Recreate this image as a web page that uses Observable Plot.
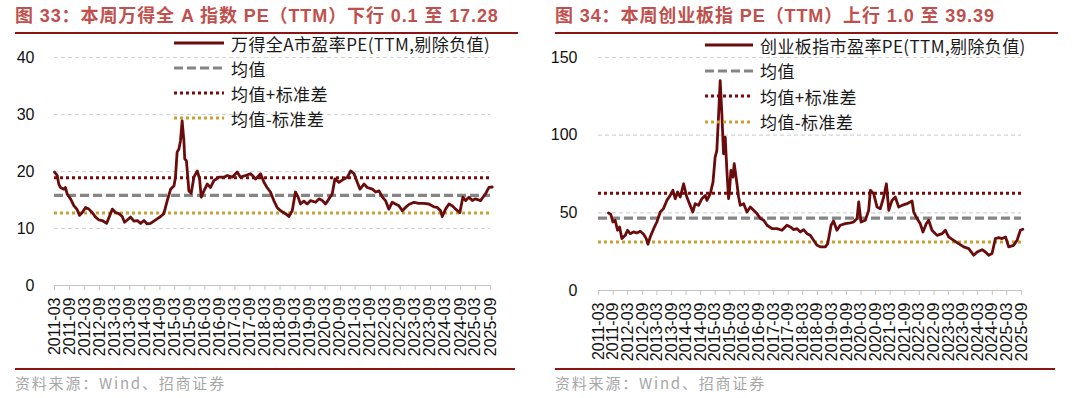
<!DOCTYPE html>
<html><head><meta charset="utf-8">
<script src="https://cdn.jsdelivr.net/npm/d3@7"></script>
<script src="https://cdn.jsdelivr.net/npm/@observablehq/plot@0.6"></script>
<style>
body{margin:0;background:#fff;}
#wrap{position:relative;width:1080px;height:398px;overflow:hidden;font-family:"Liberation Sans","Noto Sans CJK SC",sans-serif;}
.panel{position:absolute;top:0;width:540px;height:398px;}
.title{position:absolute;left:15px;top:1px;font-size:18px;letter-spacing:0.9px;font-weight:bold;color:#c0504d;white-space:nowrap;font-family:"Liberation Sans","Noto Sans CJK SC",sans-serif;}
.rule{position:absolute;height:2px;background:#8b1414;}
.src{position:absolute;left:15px;top:372px;font-size:15px;letter-spacing:1.8px;color:#a6a6a6;font-family:"Noto Sans CJK SC",sans-serif;white-space:nowrap;}
.chart{position:absolute;left:0;top:38px;}
.leg{position:absolute;font-family:"Noto Sans CJK SC",sans-serif;font-size:17px;letter-spacing:0.4px;color:#1a1a1a;white-space:nowrap;}
.row{position:absolute;left:0;height:20px;display:flex;align-items:center;}
.row svg{margin-right:7px;}
</style></head>
<body><div id="wrap"></div>
<script>
// ---------- data ----------
const titles = ["图 33：本周万得全 A 指数 PE（TTM）下行 0.1 至 17.28", "图 34：本周创业板指 PE（TTM）上行 1.0 至 39.39"];
const seriesNames = ["万得全A市盈率PE(TTM,剔除负值)", "创业板指市盈率PE(TTM,剔除负值)"];
const refNames = ["均值", "均值+标准差", "均值-标准差"];
const source = "资料来源：Wind、招商证券";
const tickLabels = ["2011-03","2011-09","2012-03","2012-09","2013-03","2013-09","2014-03","2014-09","2015-03","2015-09","2016-03","2016-09","2017-03","2017-09","2018-03","2018-09","2019-03","2019-09","2020-03","2020-09","2021-03","2021-09","2022-03","2022-09","2023-03","2023-09","2024-03","2024-09","2025-03","2025-09"];

const datesA = ["2011-03-01","2011-04-03","2011-04-22","2011-05-12","2011-06-22","2011-07-12","2011-08-03","2011-09-12","2011-10-22","2011-12-02","2011-12-30","2012-02-01","2012-03-12","2012-04-22","2012-06-01","2012-07-12","2012-08-22","2012-10-01","2012-11-23","2012-12-21","2013-02-01","2013-03-11","2013-04-21","2013-06-01","2013-06-29","2013-08-01","2013-09-11","2013-10-21","2013-12-01","2014-01-10","2014-02-20","2014-03-31","2014-05-10","2014-06-20","2014-07-30","2014-09-10","2014-10-20","2014-11-30","2015-01-10","2015-02-20","2015-03-10","2015-03-30","2015-04-20","2015-05-10","2015-05-30","2015-06-20","2015-07-01","2015-07-21","2015-08-20","2015-09-17","2015-10-20","2015-11-30","2015-12-28","2016-01-17","2016-02-19","2016-03-30","2016-05-09","2016-06-19","2016-08-19","2016-10-19","2016-11-29","2017-01-29","2017-03-29","2017-05-08","2017-07-08","2017-09-08","2017-11-08","2018-01-07","2018-02-17","2018-03-27","2018-05-07","2018-06-17","2018-07-27","2018-09-07","2018-11-07","2018-12-17","2019-01-27","2019-03-07","2019-04-09","2019-05-07","2019-06-17","2019-07-27","2019-09-07","2019-11-07","2019-12-17","2020-01-27","2020-03-07","2020-04-17","2020-05-27","2020-06-28","2020-08-17","2020-10-17","2020-11-27","2021-01-06","2021-02-16","2021-03-27","2021-04-29","2021-06-17","2021-07-27","2021-09-27","2021-11-06","2021-12-16","2022-01-26","2022-03-05","2022-04-15","2022-05-25","2022-07-05","2022-08-15","2022-09-25","2022-11-04","2022-12-14","2023-02-14","2023-04-14","2023-06-14","2023-08-14","2023-10-14","2023-11-24","2024-01-04","2024-01-24","2024-03-04","2024-04-14","2024-05-24","2024-07-04","2024-08-25","2024-09-30","2024-11-03","2024-12-13","2025-01-23","2025-03-03","2025-05-03","2025-07-03","2025-08-13","2025-09-22"];
const valuesA = [19.9,19.3,17.8,17.2,16.9,17.2,16.0,15.2,14.0,13.3,12.3,12.8,13.7,13.4,12.8,12.0,11.5,11.4,10.9,11.9,13.4,12.8,12.6,12.1,11.1,11.5,12.0,11.3,11.4,10.9,11.4,10.8,10.9,11.3,11.7,12.1,12.6,14.9,16.9,17.5,19.0,23.4,23.9,25.4,28.9,25.4,22.2,21.9,16.6,16.2,19.0,20.1,18.7,15.5,16.6,17.8,17.2,18.4,19.0,19.0,19.3,19.0,19.9,19.0,19.3,19.6,18.7,19.6,18.1,17.2,16.4,14.9,13.7,13.1,12.6,12.1,13.1,16.4,15.5,14.3,14.8,14.3,14.9,14.6,15.2,14.9,14.3,15.2,16.1,18.7,18.1,18.7,19.0,20.1,19.6,18.1,16.9,17.8,17.2,16.9,16.4,16.6,15.5,14.9,13.4,14.6,14.3,14.0,13.1,13.7,14.2,14.6,14.4,14.4,14.3,13.8,13.7,13.1,12.1,13.4,14.3,14.0,13.4,12.8,15.5,14.9,15.5,14.9,15.2,14.9,16.1,17.2,17.28];
const refsA = [15.8, 18.9, 12.7]; // 均值, 均值+标准差, 均值-标准差

const datesB = ["2011-07-04","2011-08-02","2011-08-28","2011-09-26","2011-10-25","2011-11-20","2011-12-19","2012-01-30","2012-02-28","2012-04-01","2012-05-13","2012-06-24","2012-08-05","2012-09-16","2012-10-19","2012-11-09","2012-12-08","2013-01-20","2013-03-01","2013-04-12","2013-05-23","2013-07-04","2013-08-15","2013-09-18","2013-10-17","2013-11-16","2013-12-19","2014-01-30","2014-03-11","2014-04-22","2014-05-25","2014-06-24","2014-08-05","2014-09-16","2014-10-28","2014-11-18","2014-12-30","2015-02-02","2015-03-01","2015-03-22","2015-04-12","2015-05-03","2015-05-24","2015-06-14","2015-07-05","2015-07-26","2015-08-16","2015-08-28","2015-09-15","2015-10-10","2015-10-26","2015-11-29","2015-12-20","2016-01-10","2016-02-21","2016-04-02","2016-05-14","2016-06-25","2016-08-06","2016-09-17","2016-10-29","2016-12-10","2017-02-11","2017-04-13","2017-06-15","2017-08-16","2017-09-28","2017-11-09","2017-12-20","2018-02-01","2018-03-13","2018-04-24","2018-06-05","2018-07-16","2018-08-28","2018-10-08","2018-12-10","2019-01-09","2019-02-20","2019-03-23","2019-05-04","2019-06-15","2019-08-17","2019-10-19","2019-11-30","2020-01-11","2020-02-01","2020-03-01","2020-04-24","2020-06-05","2020-06-26","2020-08-07","2020-09-18","2020-10-29","2020-12-10","2021-01-13","2021-02-12","2021-03-24","2021-05-04","2021-06-16","2021-07-27","2021-09-28","2021-11-30","2021-12-21","2022-02-01","2022-03-13","2022-04-16","2022-05-27","2022-06-26","2022-08-07","2022-10-09","2022-12-11","2023-01-22","2023-03-03","2023-05-05","2023-07-07","2023-09-08","2023-11-10","2024-01-12","2024-02-23","2024-04-25","2024-06-06","2024-07-17","2024-08-28","2024-10-09","2024-11-20","2025-01-01","2025-02-13","2025-03-24","2025-05-26","2025-07-07","2025-08-18","2025-09-17"];
const valuesB = [49.9,49.0,44.1,45.2,38.8,40.9,33.4,35.5,38.8,36.6,37.7,37.0,38.1,36.2,33.4,29.8,34.5,39.8,44.1,50.5,52.7,58.0,61.2,64.5,59.1,63.4,60.2,68.7,60.2,54.8,50.5,55.9,54.8,59.1,61.2,58.0,62.3,69.8,85.9,90.1,111.6,135.1,113.7,88.0,98.7,77.3,59.1,64.5,77.3,73.0,81.6,68.7,60.2,54.8,55.9,50.5,53.7,51.6,49.5,46.3,45.2,42.0,39.8,39.8,38.8,42.0,40.9,39.2,39.8,37.7,39.2,36.6,35.5,32.3,29.1,28.1,28.1,30.2,42.0,44.8,38.8,42.0,43.0,43.5,44.1,46.3,57.0,44.1,45.2,51.6,64.5,62.3,53.7,52.7,60.2,68.7,51.6,58.0,60.2,53.7,54.8,55.9,57.6,50.5,46.3,43.0,37.7,43.0,45.2,38.8,35.5,36.6,38.8,34.5,32.3,30.2,28.1,27.0,22.7,24.8,26.3,24.8,22.7,23.8,33.4,34.0,33.4,34.5,28.1,29.1,32.3,38.8,39.39];
const refsB = [46.6, 62.6, 31.3];

const yTicksA = [0,10,20,30,40];
const yTicksB = [0,50,100,150];

// ---------- styles ----------
const lineColor = "#6a0c0c";
const refStyles = [
  {stroke:"#858585", strokeWidth:3.2, strokeDasharray:"9,4"},
  {stroke:"#7a0a0a", strokeWidth:3, strokeDasharray:"3,3"},
  {stroke:"#c9a033", strokeWidth:3, strokeDasharray:"3,3"}
];

const parse = d3.utcParse("%Y-%m-%d");
const tickDates = tickLabels.map(s => parse(s + "-01"));
const wrap = document.getElementById("wrap");

function panel(i, cfg) {
  const p = document.createElement("div");
  p.className = "panel";
  p.style.left = cfg.left + "px";
  wrap.appendChild(p);

  const t = document.createElement("div");
  t.className = "title"; t.textContent = titles[i];
  p.appendChild(t);

  const r1 = document.createElement("div");
  r1.className = "rule"; r1.style.left = "15px"; r1.style.width = "503px"; r1.style.top = "32px";
  p.appendChild(r1);

  const data = cfg.dates.map((d, k) => ({date: parse(d), v: cfg.values[k]}));

  const chart = Plot.plot({
    width: 540, height: 330,
    marginLeft: cfg.ml, marginRight: cfg.mr, marginTop: cfg.mt, marginBottom: cfg.mb,
    style: {fontFamily: "Liberation Sans, Arial, sans-serif", background: "transparent", overflow: "visible"},
    x: {type: "utc", domain: [tickDates[0], tickDates[tickDates.length - 1]]},
    y: {domain: [0, cfg.yTicks[cfg.yTicks.length - 1]]},
    marks: [
      Plot.ruleY(cfg.yTicks.filter(d => d > 0), {stroke: "#d4d4d4", strokeWidth: 1.2, strokeDasharray: "4,3"}),
      Plot.ruleY([0], {stroke: "#c4c4c4", strokeWidth: 1.2}),
      Plot.axisX(tickDates, {tickSize: 5, tickPadding: 7, tickRotate: -90, tickFormat: d3.utcFormat("%Y-%m"),
        stroke: "#c4c4c4", fill: "#111", fontSize: 16, label: null}),
      Plot.axisY(cfg.yTicks, {tickSize: 0, tickPadding: cfg.tp, fill: "#111", fontSize: 16, label: null}),
      ...cfg.refs.map((v, k) => Plot.ruleY([v], refStyles[k])),
      Plot.line(data, {x: "date", y: "v", stroke: lineColor, strokeWidth: 2.8, strokeLinejoin: "round"})
    ]
  });
  const c = document.createElement("div");
  c.className = "chart"; c.appendChild(chart);
  p.appendChild(c);

  // legend
  const leg = document.createElement("div");
  leg.className = "leg"; leg.style.left = cfg.legX + "px"; leg.style.top = "0px";
  const names = [seriesNames[i], ...refNames];
  const styles = [{stroke: lineColor, strokeWidth: 3, strokeDasharray: "none"}, ...refStyles];
  names.forEach((n, k) => {
    const row = document.createElement("div");
    row.className = "row";
    row.style.top = (cfg.legY + k * cfg.legDy - 10) + "px";
    const s = styles[k];
    row.innerHTML = `<svg width="${cfg.legW}" height="8"><line x1="0" x2="${cfg.legW}" y1="4" y2="4" stroke="${s.stroke}" stroke-width="${s.strokeWidth}" stroke-dasharray="${s.strokeDasharray}"/></svg><span>${n}</span>`;
    leg.appendChild(row);
  });
  p.appendChild(leg);

  const r2 = document.createElement("div");
  r2.className = "rule"; r2.style.left = "15px"; r2.style.width = "500px"; r2.style.top = "368px";
  p.appendChild(r2);

  const s = document.createElement("div");
  s.className = "src"; s.textContent = source;
  p.appendChild(s);
}

panel(0, {left: 0, dates: datesA, values: valuesA, refs: refsA, yTicks: yTicksA,
  ml: 54, mr: 50, mt: 19, mb: 83, tp: 20, legX: 174, legY: 43, legDy: 25, legW: 50});
panel(1, {left: 540, dates: datesB, values: valuesB, refs: refsB, yTicks: yTicksB,
  ml: 58, mr: 59, mt: 19, mb: 78, tp: 21, legX: 165, legY: 45, legDy: 25.5, legW: 48});
</script>
</body></html>
